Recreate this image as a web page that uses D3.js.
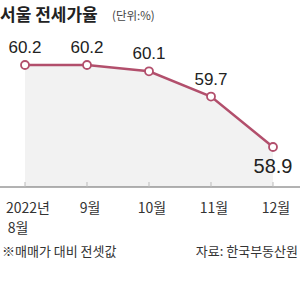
<!DOCTYPE html>
<html>
<head>
<meta charset="utf-8">
<script src="https://cdn.jsdelivr.net/npm/d3@7"></script>
<style>
  body { margin: 0; background: #fff; }
  text { font-family: "Liberation Sans Narrow", "Liberation Sans", "Noto Sans CJK KR", sans-serif; }
  .kr { font-family: "Noto Sans CJK KR", sans-serif; }
</style>
</head>
<body>
<div id="chart"></div>
<script>
// 서울 전세가율 (매매가 대비 전셋값)
var months = ["2022년|8월", "9월", "10월", "11월", "12월"];
var rates = [60.2, 60.2, 60.1, 59.7, 58.9];
var valueLabels = ["60.2", "60.2", "60.1", "59.7", "58.9"];

var svgWidth = 300, svgHeight = 306;
var baseY = 187;

var svg = d3.select("#chart").append("svg")
  .attr("width", svgWidth)
  .attr("height", svgHeight);

var xScale = d3.scalePoint()
  .domain(months)
  .range([25, 273]);

var yScale = d3.scaleLinear()
  .domain([58.9, 60.2])
  .range([147, 65]);

// title
svg.append("text")
  .attr("class", "kr")
  .attr("x", 0).attr("y", 21)
  .attr("font-size", 17).attr("font-weight", "bold")
  .attr("fill", "#222")
  .text("서울 전세가율");
svg.append("text")
  .attr("class", "kr")
  .attr("x", 112).attr("y", 20)
  .attr("font-size", 11.5)
  .attr("fill", "#444")
  .text("(단위:%)");

// shaded area under line
var area = d3.area()
  .x(function(d, i) { return xScale(months[i]); })
  .y0(baseY)
  .y1(function(d) { return yScale(d); });

svg.append("path")
  .datum(rates)
  .attr("d", area)
  .attr("fill", "#f2f2f2");

// baseline
svg.append("line")
  .attr("x1", 0).attr("x2", svgWidth)
  .attr("y1", baseY).attr("y2", baseY)
  .attr("stroke", "#666").attr("stroke-width", 1);

// tick marks
svg.selectAll(".tk").data(months).enter().append("line")
  .attr("x1", d => xScale(d)).attr("x2", d => xScale(d))
  .attr("y1", baseY - 5).attr("y2", baseY)
  .attr("stroke", "#bbb");

// line
var line = d3.line()
  .x(function(d, i) { return xScale(months[i]); })
  .y(function(d) { return yScale(d); });

svg.append("path")
  .datum(rates)
  .attr("d", line)
  .attr("fill", "none")
  .attr("stroke", "#b24f6c")
  .attr("stroke-width", 2.5);

svg.selectAll(".pt").data(rates).enter().append("circle")
  .attr("cx", (d, i) => xScale(months[i]))
  .attr("cy", d => yScale(d))
  .attr("r", 4)
  .attr("fill", "#fff")
  .attr("stroke", "#b24f6c")
  .attr("stroke-width", 1.8);

// value labels
svg.selectAll(".val").data(rates).enter().append("text")
  .attr("x", (d, i) => xScale(months[i]))
  .attr("y", (d, i) => i == 4 ? yScale(d) + 26 : yScale(d) - 12)
  .attr("text-anchor", "middle")
  .attr("font-size", (d, i) => i == 4 ? 20 : 17)
  .attr("fill", "#222")
  .text((d, i) => valueLabels[i]);

// x labels
months.forEach(function(m, i) {
  var parts = m.split("|");
  var t = svg.append("text")
    .attr("class", "kr")
    .attr("text-anchor", "middle")
    .attr("font-size", 14)
    .attr("fill", "#333");
  parts.forEach(function(p, j) {
    t.append("tspan")
      .attr("x", i == 0 && j == 1 ? 18 : xScale(m) + 3)
      .attr("y", 213 + j * 20)
      .text(p);
  });
});

// footnotes
svg.append("text")
  .attr("class", "kr")
  .attr("x", 2).attr("y", 256)
  .attr("font-size", 13).attr("fill", "#333")
  .text("※매매가 대비 전셋값");
svg.append("text")
  .attr("class", "kr")
  .attr("x", 298).attr("y", 256)
  .attr("text-anchor", "end")
  .attr("font-size", 13).attr("fill", "#333")
  .text("자료: 한국부동산원");
</script>
</body>
</html>
